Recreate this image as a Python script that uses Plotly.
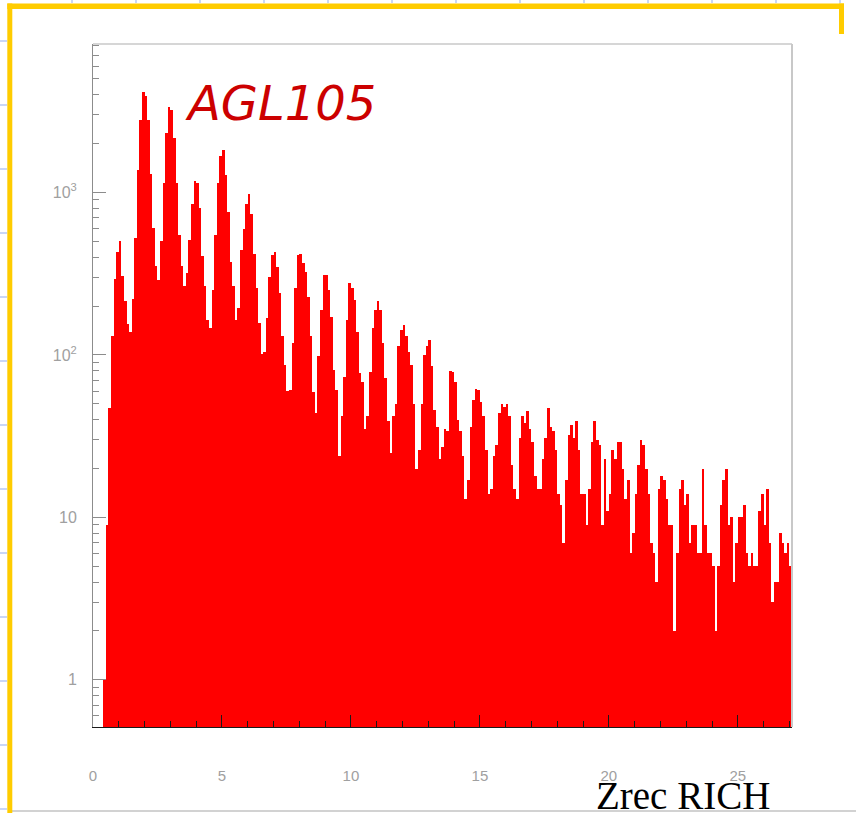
import numpy as np
import plotly.graph_objects as go

# Histogram of reconstructed charge (RICH, aerogel radiator), 0.1-wide bins from 0.0
bin_width = 0.1
x_start = 0.0
counts = [
    0, 0, 0, 0, 1, 9, 47, 130, 294, 430,                          # 0.0
    504, 307, 215, 156, 138, 221, 523, 1367, 2780, 4160,          # 1.0
    3945, 2780, 1298, 604, 355, 290, 504, 1142, 2325, 3360,       # 2.0
    3235, 2165, 1142, 549, 355, 264, 319, 510, 852, 1169,         # 3.0
    1142, 801, 404, 264, 164, 146, 250, 549, 1142, 1667,          # 4.0
    1815, 1290, 760, 375, 264, 164, 195, 440, 600, 852,           # 5.0
    978, 740, 420, 260, 157, 102, 105, 168, 300, 410,             # 6.0
    433, 350, 240, 130, 87, 60, 61, 118, 257, 410,                # 7.0
    419, 367, 326, 229, 130, 59, 44, 98, 189, 311,                # 8.0
    311, 251, 172, 81, 61, 24, 42, 73, 163, 279,                  # 9.0
    257, 218, 139, 77, 68, 35, 42, 78, 146, 189,                  # 10.0
    215, 189, 118, 72, 39, 25, 42, 50, 113, 143,                  # 11.0
    153, 130, 105, 87, 50, 20, 26, 50, 100, 113,                  # 12.0
    124, 86, 46, 36, 23, 27, 35, 34, 80, 79,                      # 13.0
    68, 40, 34, 24, 13, 17, 36, 53, 62, 61,                       # 14.0
    51, 42, 26, 14, 15, 24, 28, 44, 50, 48,                       # 15.0
    50, 42, 21, 15, 13, 31, 42, 38, 45, 35,                       # 16.0
    29, 18, 15, 15, 23, 31, 47, 36, 34, 26,                       # 17.0
    14, 12, 7, 17, 32, 37, 31, 39, 26, 14,                        # 18.0
    14, 9, 15, 29, 39, 30, 28, 9, 23, 11,                         # 19.0
    14, 26, 23, 29, 29, 20, 13, 17, 6, 8,                         # 20.0
    14, 21, 30, 28, 20, 14, 7, 6, 4, 15,                          # 21.0
    18, 17, 13, 9, 9, 2, 6, 15, 17, 12,                           # 22.0
    14, 7, 9, 9, 6, 6, 20, 9, 6, 6,                               # 23.0
    5, 2, 5, 12, 17, 20, 9, 10, 4, 7,                             # 24.0
    10, 10, 12, 6, 5, 6, 5, 5, 11, 14,                            # 25.0
    9, 15, 7, 3, 4, 4, 8, 7, 6, 7,                                # 26.0
    5,                                                            # 27.0
]

x_major = [0, 5, 10, 15, 20, 25]
x_minor = [v for v in range(1, 28) if v % 5 != 0]
y_major = [1, 10, 100, 1000]
y_major_text = ["1", "10", "10<sup>2</sup>", "10<sup>3</sup>"]
y_minor = [m * 10.0 ** d for d in range(-1, 4) for m in range(2, 10)]
y_minor = [v for v in y_minor if 0.5 < v < 8200]

title_text = "AGL105"
x_title = "Zrec RICH"

edges = x_start + bin_width * np.arange(len(counts) + 1)
centers = 0.5 * (edges[:-1] + edges[1:])

W, H = 856, 813
ML, MR, MT, MB = 93, 64, 44, 86
PW, PH = W - ML - MR, H - MT - MB


def px(xp):
    return (xp - ML) / PW


def py(yp):
    return (H - MB - yp) / PH


fig = go.Figure()
fig.add_trace(go.Bar(
    x=centers, y=counts, width=bin_width,
    marker=dict(color="#ff0000", line=dict(width=0)),
    hoverinfo="x+y",
))

shapes = []
# top and right frame of the plot area
shapes.append(dict(type="line", xref="paper", yref="paper", x0=0, x1=1, y0=1, y1=1,
                   line=dict(color="#c8c8c8", width=1.5)))
shapes.append(dict(type="line", xref="paper", yref="paper", x0=1, x1=1, y0=0, y1=1,
                   line=dict(color="#c8c8c8", width=2)))
# light-blue ruler marks along the page edges
for yy in range(41, H, 64):
    shapes.append(dict(type="line", xref="paper", yref="paper",
                       x0=px(0), x1=px(7), y0=py(yy), y1=py(yy),
                       line=dict(color="#c9d6f6", width=2)))
for xx in range(72, W, 64):
    shapes.append(dict(type="line", xref="paper", yref="paper",
                       x0=px(xx), x1=px(xx), y0=py(0), y1=py(3),
                       line=dict(color="#c9d6f6", width=2)))
# gray rule at the bottom of the page
shapes.append(dict(type="line", xref="paper", yref="paper",
                   x0=px(12), x1=px(W), y0=py(811), y1=py(811),
                   line=dict(color="#d2d2d2", width=2)))
# yellow selection frame
shapes.append(dict(type="line", xref="paper", yref="paper",
                   x0=px(9.8), x1=px(9.8), y0=py(3.5), y1=py(H + 5),
                   line=dict(color="#ffcc00", width=5)))
shapes.append(dict(type="line", xref="paper", yref="paper",
                   x0=px(7.3), x1=px(844), y0=py(6.2), y1=py(6.2),
                   line=dict(color="#ffcc00", width=5.5)))
shapes.append(dict(type="line", xref="paper", yref="paper",
                   x0=px(841.5), x1=px(841.5), y0=py(3.5), y1=py(34),
                   line=dict(color="#ffcc00", width=5)))

fig.update_layout(
    width=W, height=H,
    margin=dict(l=ML, r=MR, t=MT, b=MB, pad=0),
    paper_bgcolor="white", plot_bgcolor="white",
    bargap=0, showlegend=False,
    shapes=shapes,
    xaxis=dict(
        range=[0, 27.1], showgrid=False, zeroline=False,
        showline=True, linecolor="#1a1a1a", linewidth=1,
        tickmode="array", tickvals=x_major, ticktext=[str(v) for v in x_major],
        ticks="inside", ticklen=12, tickwidth=1, tickcolor="#1a1a1a",
        minor=dict(tickmode="array", tickvals=x_minor, ticks="inside",
                   ticklen=6, tickwidth=1, tickcolor="#1a1a1a", showgrid=False),
        tickfont=dict(family="Liberation Sans", size=15, color="#a0a0a0"),
        ticklabelstandoff=35,
    ),
    yaxis=dict(
        type="log", range=[-0.29, 3.914], showgrid=False, zeroline=False,
        showline=True, linecolor="#8c8c8c", linewidth=1,
        tickmode="array", tickvals=y_major, ticktext=y_major_text,
        ticks="inside", ticklen=13, tickwidth=1, tickcolor="#8c8c8c",
        minor=dict(tickmode="array", tickvals=y_minor, ticks="inside",
                   ticklen=6, tickwidth=1, tickcolor="#8c8c8c", showgrid=False),
        tickfont=dict(family="Liberation Sans", size=16, color="#a0a0a0"),
        ticklabelstandoff=12,
    ),
    annotations=[
        dict(text="<i>" + title_text + "</i>", xref="paper", yref="paper",
             x=px(280), y=py(103), xanchor="center", yanchor="middle",
             showarrow=False,
             font=dict(family="DejaVu Sans", size=48, color="#cc0000")),
        dict(text=x_title, xref="paper", yref="paper",
             x=px(683), y=py(795), xanchor="center", yanchor="middle",
             showarrow=False,
             font=dict(family="Liberation Serif", size=39, color="black")),
    ],
)

fig.write_html("out.html")
